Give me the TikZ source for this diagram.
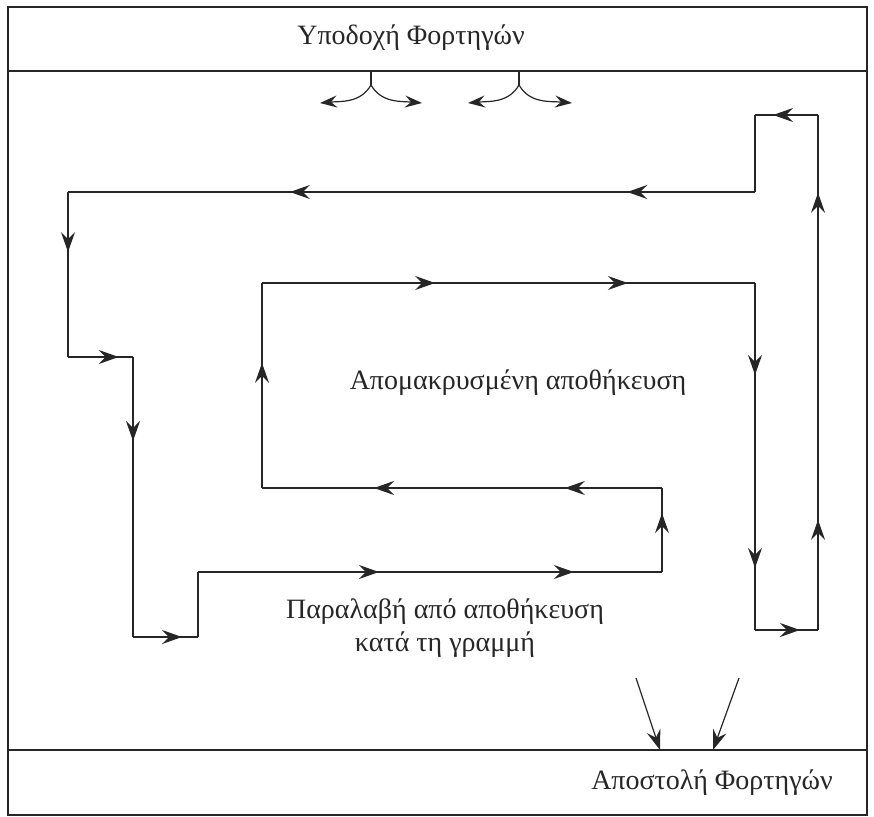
\documentclass[tikz,border=0pt]{standalone}
\usepackage{fontspec}
\setmainfont{Liberation Serif}
\usetikzlibrary{arrows.meta,decorations.markings}

\begin{document}
\begin{tikzpicture}[x=1pt, y=-1pt, line width=1.2pt, draw=black!85,
  >={Stealth[length=20pt,width=14pt,inset=7pt]},
  mid/.style={postaction={decorate,decoration={markings,mark=at position #1 with {\arrow{>}}}}},
  fork/.style={-{Stealth[length=17pt,width=12pt,inset=6pt]}},
  areatext/.style={font=\fontsize{28}{33}\selectfont, text=black!85}]
  \useasboundingbox (0,0) rectangle (874,816);
  \draw (8,7) rectangle (867,815);
  \draw (8,71) -- (867,71);
  \draw (8,750) -- (867,750);
  \node[areatext] at (411,38) (recv) {Υποδοχή Φορτηγών};
  \node[areatext] at (712,783) (ship) {Αποστολή Φορτηγών};
  \node[areatext] at (518,383) (remote) {Απομακρυσμένη αποθήκευση};
  \node[areatext, align=center] at (445,628) (pick) {Παραλαβή από αποθήκευση\\κατά τη γραμμή};
  \coordinate (a) at (262,283);
  \coordinate (b) at (755,283);
  \coordinate (c) at (755,630);
  \coordinate (d) at (818,630);
  \coordinate (e) at (818,115);
  \coordinate (f) at (755,115);
  \coordinate (g) at (755,192);
  \coordinate (h) at (68,192);
  \coordinate (i) at (68,357);
  \coordinate (j) at (133,357);
  \coordinate (k) at (133,637);
  \coordinate (l) at (198,637);
  \coordinate (m) at (198,572);
  \coordinate (n) at (662,572);
  \coordinate (o) at (662,488);
  \coordinate (p) at (262,488);
  \draw[mid=0.351, mid=0.742] (a) -- (b);
  \draw[mid=0.265, mid=0.821] (b) -- (c);
  \draw[mid=0.714] (c) -- (d);
  \draw[mid=0.214, mid=0.849] (d) -- (e);
  \draw[mid=0.714] (e) -- (f);
  \draw (f) -- (g);
  \draw[mid=0.186, mid=0.677] (g) -- (h);
  \draw[mid=0.364] (h) -- (i);
  \draw[mid=0.78] (i) -- (j);
  \draw[mid=0.30] (j) -- (k);
  \draw[mid=0.754] (k) -- (l);
  \draw (l) -- (m);
  \draw[mid=0.39, mid=0.81] (m) -- (n);
  \draw[mid=0.70] (n) -- (o);
  \draw[mid=0.243, mid=0.72] (o) -- (p);
  \draw[mid=0.61] (p) -- (a);
  \coordinate (f1) at (371,71);
  \coordinate (f1s) at (371,85);
  \coordinate (f1l) at (320,103);
  \coordinate (f1r) at (422,103);
  \coordinate (f2) at (519,71);
  \coordinate (f2s) at (519,85);
  \coordinate (f2l) at (468,103);
  \coordinate (f2r) at (572,103);
  \draw (f1) -- (f1s);
  \draw[fork] (f1s) to[out=-120, in=5] (f1l);
  \draw[fork] (f1s) to[out=-60, in=175] (f1r);
  \draw (f2) -- (f2s);
  \draw[fork] (f2s) to[out=-120, in=5] (f2l);
  \draw[fork] (f2s) to[out=-60, in=175] (f2r);
  \coordinate (s1) at (636,678);
  \coordinate (s1e) at (660,750);
  \coordinate (s2) at (739,678);
  \coordinate (s2e) at (713,750);
  \draw[->] (s1) -- (s1e);
  \draw[->] (s2) -- (s2e);
\end{tikzpicture}
\end{document}
